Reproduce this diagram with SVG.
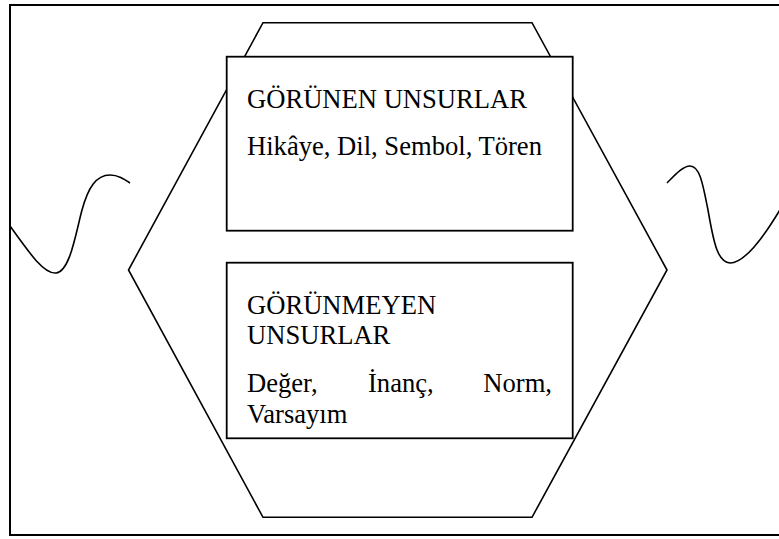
<svg xmlns="http://www.w3.org/2000/svg" width="779" height="539" viewBox="0 0 779 539">
  <style>
    .line { fill: none; stroke: #000; stroke-width: 1.6; stroke-linejoin: miter; }
    .box { fill: #fff; stroke: #000; stroke-width: 1.8; }
    .frame { fill: none; stroke: #000; stroke-width: 2; }
    .label { font-family: 'Liberation Serif', 'Times New Roman', Times, serif; font-size: 26.6px; fill: #000; }
  </style>
  <rect width="779" height="539" fill="#fff"/>

  <!-- outer frame (right side runs past the page edge) -->
  <path class="frame" d="M790,5 H10 V535 H790"/>

  <!-- side waves -->
  <g id="wave-left">
    <path class="line" d="M10,226 C30,254 44,274 56,273 C70,272 76,232 82,210 C88,188 96,175 110,175 C118,175 124,179 130,183"/>
  </g>
  <g id="wave-right">
    <path class="line" d="M667,183 C675,175 683,166 690,166 C700,166 703,185 708,210 C714,245 718,262 730,263 C745,263 765,235 781,208"/>
  </g>

  <!-- hexagon behind the two boxes -->
  <g id="hexagon">
    <polygon class="line" points="263,22.7 532,22.7 667,270 532,517.3 263,517.3 128.5,270"/>
  </g>

  <g id="visible" class="label">
    <rect class="box" x="226.7" y="56.7" width="346" height="174"/>
    <text x="247" y="107.7">GÖRÜNEN UNSURLAR</text>
    <text x="247" y="155">Hikâye, Dil, Sembol, Tören</text>
  </g>

  <g id="invisible" class="label">
    <rect class="box" x="226.7" y="262.7" width="346" height="175.6"/>
    <text x="247" y="314">GÖRÜNMEYEN</text>
    <text x="247" y="344.3">UNSURLAR</text>
    <text x="247" y="391.7">Değer,</text>
    <text x="368" y="391.7">İnanç,</text>
    <text x="552" y="391.7" text-anchor="end">Norm,</text>
    <text x="247" y="422.7">Varsayım</text>
  </g>
</svg>
